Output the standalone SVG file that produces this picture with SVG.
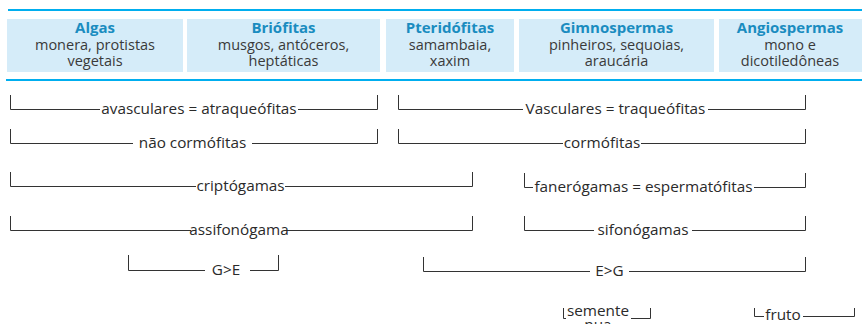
<svg xmlns="http://www.w3.org/2000/svg" width="862" height="324" viewBox="0 0 862 324">
<style>
.rule{stroke:#00aeef;stroke-width:2.2;fill:none}
.box{fill:#d5ecf9}
.t{font-family:"Open Sans","Noto Sans","Liberation Sans",sans-serif;font-size:15px;font-weight:bold;fill:#1a8cc0;text-anchor:middle}
.s{font-family:"Open Sans","Noto Sans","Liberation Sans",sans-serif;font-size:14.5px;fill:#3a3a3a;text-anchor:middle}
.b{stroke:#333;stroke-width:1;fill:none}
.l{font-family:"Open Sans","Noto Sans","Liberation Sans",sans-serif;font-size:15.3px;fill:#2a2a2a;text-anchor:middle}
</style>
<rect width="862" height="324" fill="#fff"/>
<line class="rule" x1="8" y1="10" x2="862" y2="10"/>
<line class="rule" x1="6" y1="80" x2="862" y2="80"/>
<g id="algas"><rect class="box" x="7" y="19" width="176" height="53"/><text class="t" x="95" y="33">Algas</text><text class="s" x="95" y="50">monera, protistas</text><text class="s" x="95" y="66">vegetais</text></g>
<g id="briofitas"><rect class="box" x="187" y="19" width="193" height="53"/><text class="t" x="283.5" y="33">Briófitas</text><text class="s" x="283.5" y="50">musgos, antóceros,</text><text class="s" x="283.5" y="66">heptáticas</text></g>
<g id="pteridofitas"><rect class="box" x="386" y="19" width="128" height="53"/><text class="t" x="450" y="33">Pteridófitas</text><text class="s" x="450" y="50">samambaia,</text><text class="s" x="450" y="66">xaxim</text></g>
<g id="gimnospermas"><rect class="box" x="519" y="19" width="195" height="53"/><text class="t" x="616.5" y="33">Gimnospermas</text><text class="s" x="616.5" y="50">pinheiros, sequoias,</text><text class="s" x="616.5" y="66">araucária</text></g>
<g id="angiospermas"><rect class="box" x="719" y="19" width="143" height="53"/><text class="t" x="790" y="33">Angiospermas</text><text class="s" x="790" y="50">mono e</text><text class="s" x="790" y="66">dicotiledôneas</text></g>
<g id="connectors" class="b">
<path d="M10.5 95V109.5H100M298 109.5H377.5V95"/>
<path d="M398.5 95V109.5H523M708 109.5H805.5V95"/>
<path d="M10.5 129V143.5H133M252 143.5H377.5V129"/>
<path d="M398.5 129V143.5H563M641 143.5H805.5V129"/>
<path d="M10.5 172V186.5H196M285 186.5H472.5V172"/>
<path d="M524.5 173V187.5H533M754 187.5H805.5V173"/>
<path d="M10.5 216V230.5H191M287 230.5H472.5V216"/>
<path d="M524.5 216V230.5H594M692 230.5H805.5V216"/>
<path d="M128.5 255V270.5H205M250 270.5H278.5V255"/>
<path d="M423.5 257V271.5H590M629 271.5H805.5V257"/>
<path d="M563.5 308V318.5H566M631 318.5H650.5V308"/>
<path d="M754.5 308V316.5H764M803 316.5H854.5V308"/>
</g>
<g id="avasculares"><text class="l" x="199" y="113.5">avasculares = atraqueófitas</text></g>
<g id="vasculares"><text class="l" x="615.5" y="113.5">Vasculares = traqueófitas</text></g>
<g id="nao-cormofitas"><text class="l" x="192.5" y="147.5">não cormófitas</text></g>
<g id="cormofitas"><text class="l" x="602" y="147.5">cormófitas</text></g>
<g id="criptogamas"><text class="l" x="240.5" y="190.5">criptógamas</text></g>
<g id="fanerogamas"><text class="l" x="643.5" y="191.5">fanerógamas = espermatófitas</text></g>
<g id="assifonogama"><text class="l" x="239" y="234.5">assifonógama</text></g>
<g id="sifonogamas"><text class="l" x="643" y="234.5">sifonógamas</text></g>
<g id="g-e"><text class="l" x="226" y="274.5">G&gt;E</text></g>
<g id="e-g"><text class="l" x="609.5" y="275.5">E&gt;G</text></g>
<g id="semente"><text class="l" x="598" y="316">semente</text><text class="l" x="598" y="330">nua</text></g>
<g id="fruto"><text class="l" x="783" y="320">fruto</text></g>
</svg>
